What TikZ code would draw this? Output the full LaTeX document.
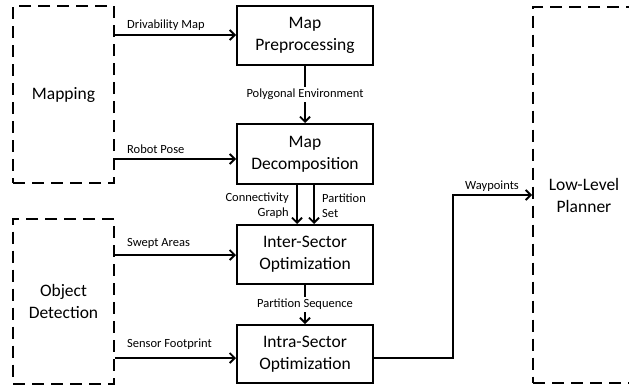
\documentclass[tikz,border=0pt]{standalone}
\usepackage{fontspec}
\setmainfont{Carlito}
\usetikzlibrary{arrows.meta,calc}
\begin{document}
\begin{tikzpicture}[x=1pt,y=-1pt,
  solidbox/.style={draw,line width=2pt,rectangle,minimum width=136pt,minimum height=59pt,align=center,font=\fontsize{17.5}{22}\selectfont,inner sep=0pt},
  dashbox/.style={draw,line width=2pt,dash pattern=on 12pt off 7pt,rectangle,align=center,font=\fontsize{17.5}{22}\selectfont,inner sep=0pt},
  arr/.style={line width=1.8pt,-{Straight Barb[length=5pt,width=10pt,line width=1.8pt]}},
  lbl/.style={font=\fontsize{12.5}{15}\selectfont,inner sep=1pt},
  lblf/.style={lbl,fill=white,inner sep=2pt}]
\clip (0,0) rectangle (629,388);
\fill[white] (0,0) rectangle (629,388);
% dashed boxes
\node[dashbox,minimum width=101pt,minimum height=177pt] (map) at (63.5,94.5) {Mapping};
\node[dashbox,minimum width=101pt,minimum height=165pt] (obj) at (63.5,301) {Object\\Detection};
\node[dashbox,minimum width=102pt,minimum height=376pt] (low) at (584,194.5) {};
\node[font=\fontsize{17.5}{22}\selectfont,align=center] (lowt) at (584,195) {Low-Level\\Planner};
% solid boxes
\node[solidbox] (pre) at (305,35.5) {Map\\Preprocessing};
\node[solidbox,minimum height=60pt] (dec) at (305,154) {Map\\Decomposition};
\node[solidbox] (inter) at (305,254.5) {Inter-Sector\\Optimization};
\node[solidbox,minimum height=58pt] (intra) at (305,354) {Intra-Sector\\Optimization};
% inputs
\draw[arr] (map.east |- 0,35) -- (pre.west |- 0,35);
\node[lbl,anchor=west] (l1) at (126,25) {Drivability Map};
\draw[arr] (map.east |- 0,159) -- (dec.west |- 0,159);
\node[lbl,anchor=west] (l2) at (126,149) {Robot Pose};
\draw[arr] (obj.east |- 0,255) -- (inter.west |- 0,255);
\node[lbl,anchor=west] (l3) at (126,243) {Swept Areas};
\draw[arr] (obj.east |- 0,358) -- (intra.west |- 0,358);
\node[lbl,anchor=west] (l4) at (126,344) {Sensor Footprint};
% vertical flows
\draw[arr] (pre.south) -- node[lblf] (l5) {Polygonal Environment} (dec.north);
\draw[arr] (dec.south -| 297,0) -- (inter.north -| 297,0);
\draw[arr] (dec.south -| 314,0) -- (inter.north -| 314,0);
\node[lbl,anchor=east,align=right] (l6) at (290,206) {Connectivity\\Graph};
\node[lbl,anchor=west,align=left] (l7) at (321,206) {Partition\\Set};
\draw[arr] (inter.south) -- node[lblf] (l8) {Partition Sequence} (intra.north);
% output
\coordinate (bend1) at (453,358);
\coordinate (bend2) at (453,195);
\draw[arr] (intra.east |- bend1) -- (bend1) -- (bend2) -- (low.west |- bend2);
\node[lbl] (l9) at (492,186) {Waypoints};
\end{tikzpicture}
\end{document}
